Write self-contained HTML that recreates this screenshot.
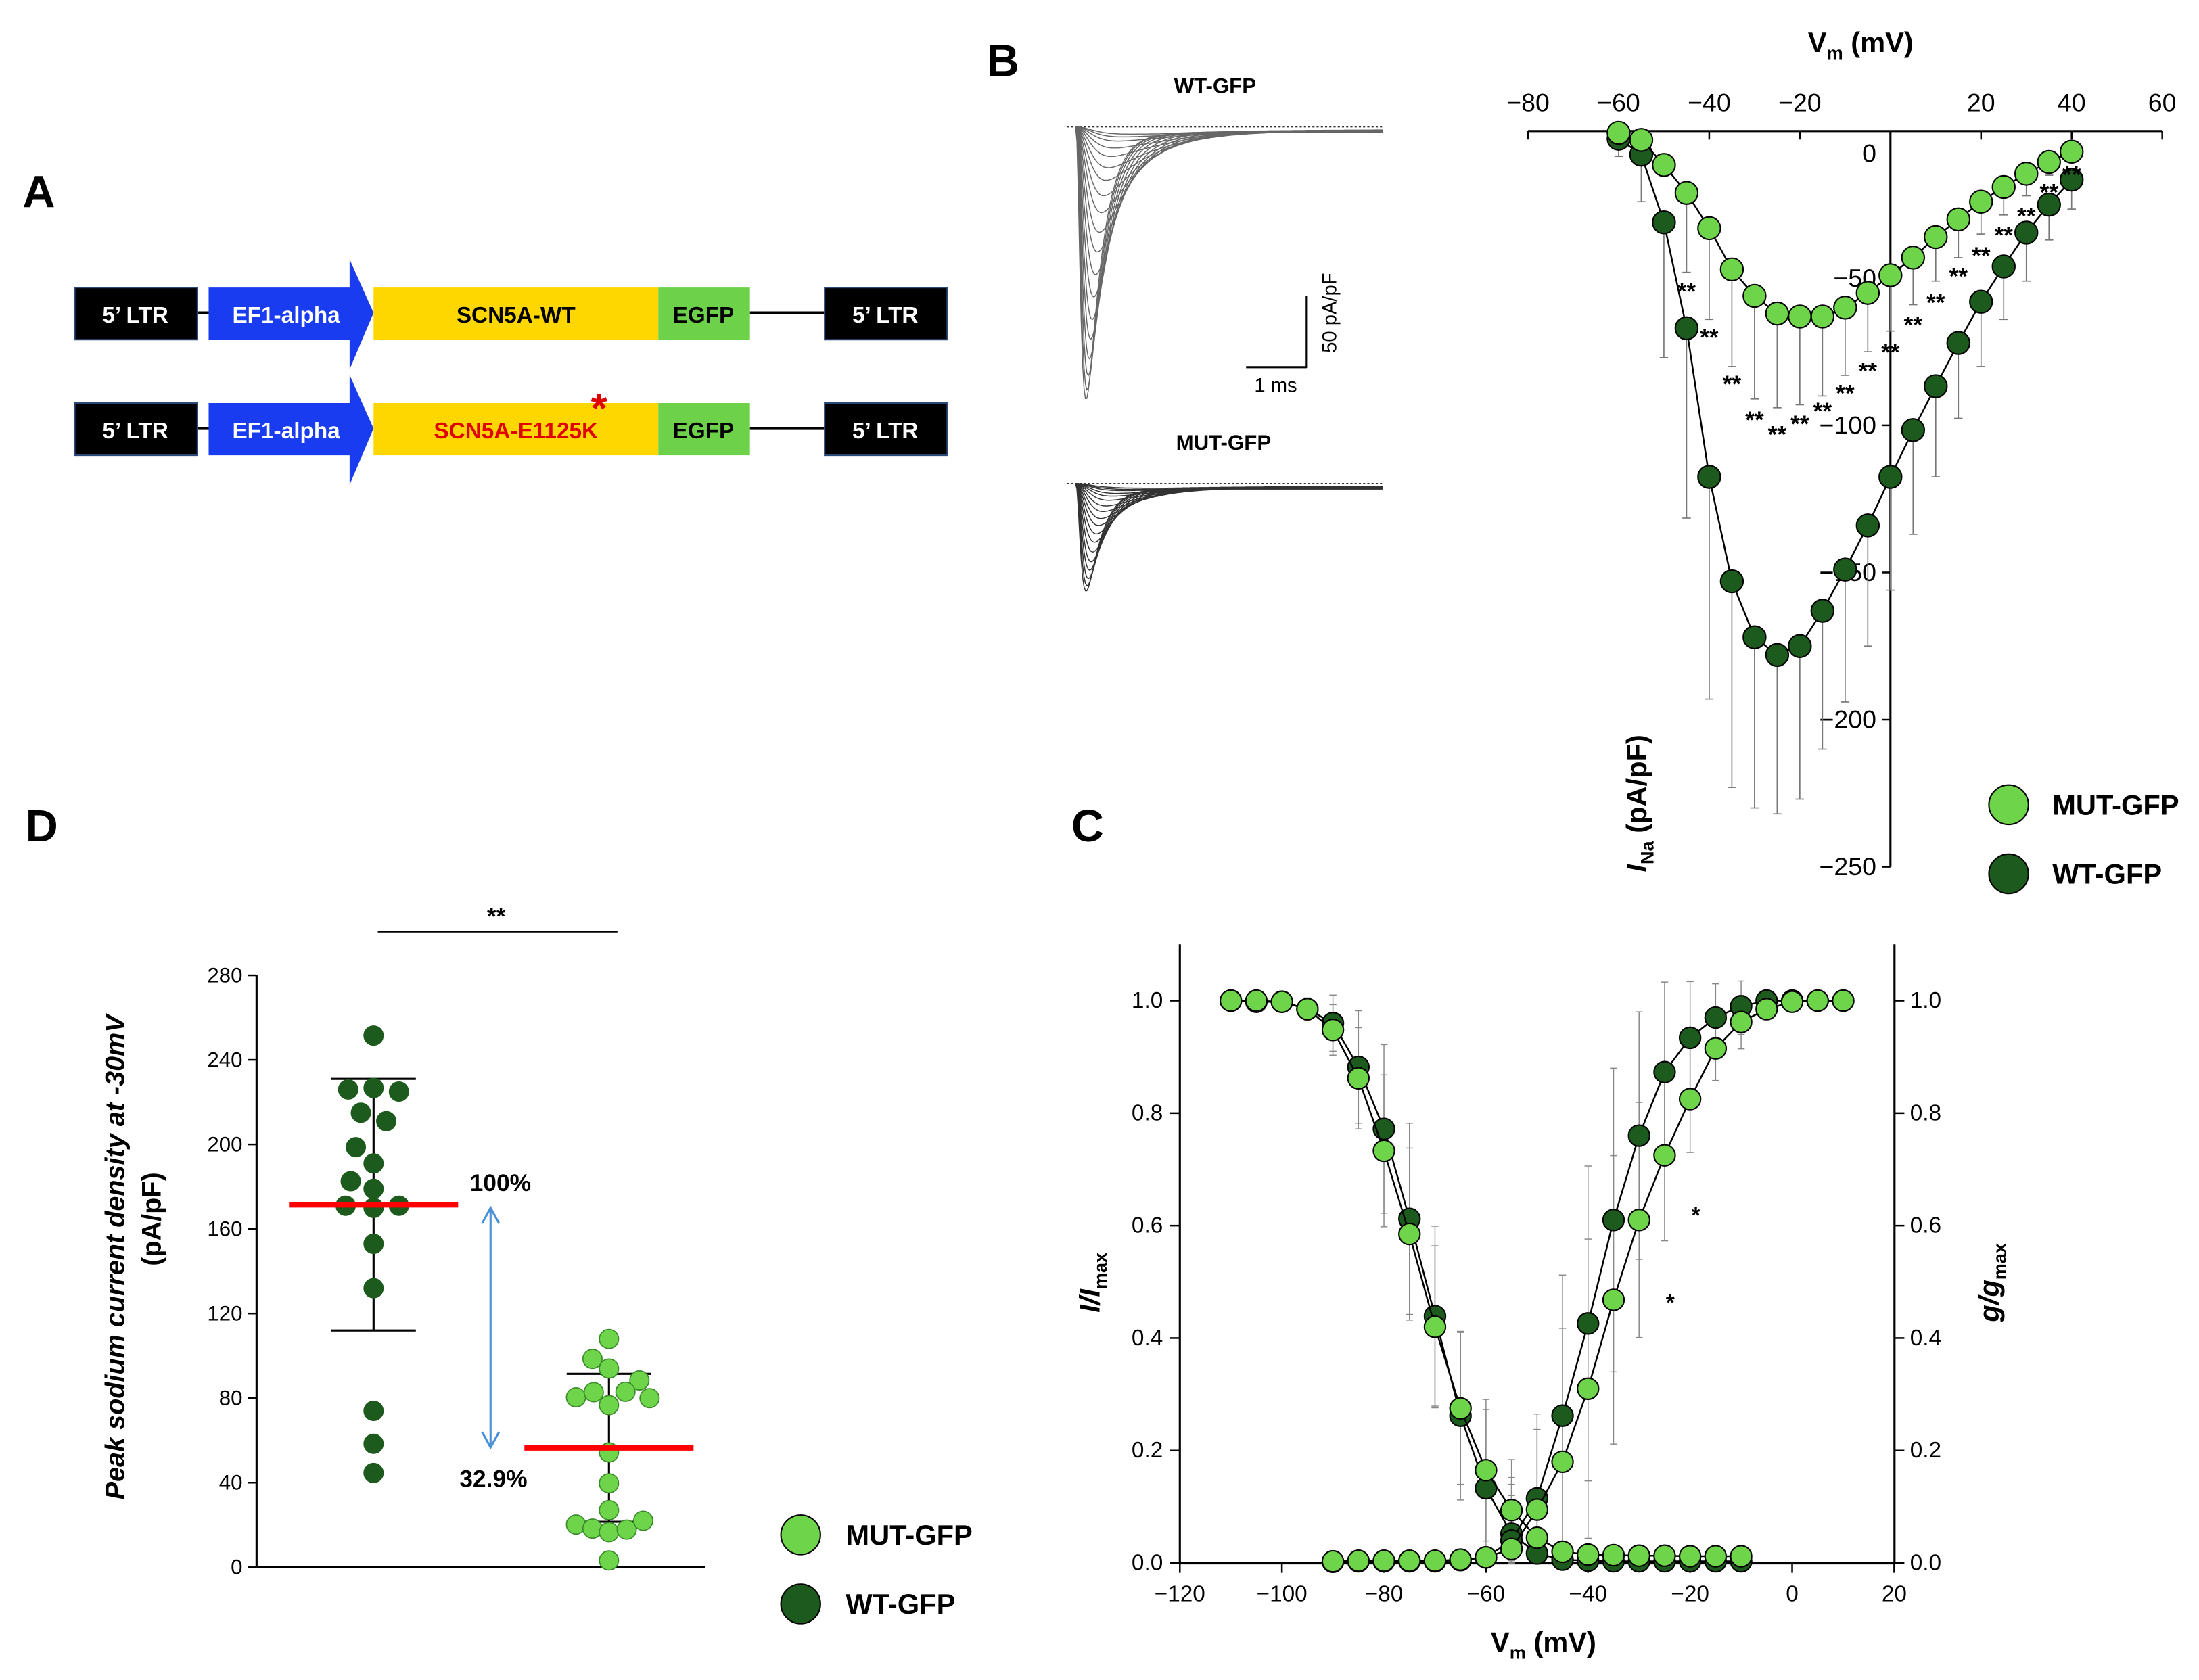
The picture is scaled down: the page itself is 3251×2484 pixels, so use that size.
<!DOCTYPE html>
<html><head><meta charset="utf-8">
<style>
html,body{margin:0;padding:0;background:#fff;}
svg{display:block;font-family:"Liberation Sans",Arial,sans-serif;}
</style></head>
<body>
<svg id="fig" width="3251" height="2484" viewBox="0 0 1560 1192">
<rect x="0" y="0" width="1560" height="1192" fill="#fff"/>
<text x="16" y="147" font-size="32" font-weight="bold">A</text>
<text x="700" y="54" font-size="32" font-weight="bold">B</text>
<text x="760" y="597" font-size="32" font-weight="bold">C</text>
<text x="18" y="597" font-size="32" font-weight="bold">D</text>

<g>
  <line x1="140" y1="222" x2="148" y2="222" stroke="#000" stroke-width="2"/>
  <line x1="532" y1="222" x2="585" y2="222" stroke="#000" stroke-width="2"/>
  <rect x="53" y="204" width="87" height="37" fill="#000" stroke="#2b4a7a"/>
  <text x="96" y="229" font-size="16" font-weight="bold" fill="#fff" text-anchor="middle">5’ LTR</text>
  <polygon points="148,204 248,204 248,184 265,222 248,262 248,241 148,241" fill="#1a3cf0"/>
  <text x="203" y="229" font-size="16" font-weight="bold" fill="#fff" text-anchor="middle">EF1-alpha</text>
  <rect x="265" y="204" width="202" height="37" fill="#ffd700"/>
  <text x="366" y="229" font-size="16" font-weight="bold" fill="#000" text-anchor="middle">SCN5A-WT</text>
  <rect x="467" y="204" width="65" height="37" fill="#6dd24a"/>
  <text x="499" y="229" font-size="16" font-weight="bold" fill="#000" text-anchor="middle">EGFP</text>
  <rect x="585" y="204" width="87" height="37" fill="#000" stroke="#2b4a7a"/>
  <text x="628" y="229" font-size="16" font-weight="bold" fill="#fff" text-anchor="middle">5’ LTR</text>
</g>
<g>
  <line x1="140" y1="304" x2="148" y2="304" stroke="#000" stroke-width="2"/>
  <line x1="532" y1="304" x2="585" y2="304" stroke="#000" stroke-width="2"/>
  <rect x="53" y="286" width="87" height="37" fill="#000" stroke="#2b4a7a"/>
  <text x="96" y="311" font-size="16" font-weight="bold" fill="#fff" text-anchor="middle">5’ LTR</text>
  <polygon points="148,286 248,286 248,266 265,304 248,344 248,323 148,323" fill="#1a3cf0"/>
  <text x="203" y="311" font-size="16" font-weight="bold" fill="#fff" text-anchor="middle">EF1-alpha</text>
  <rect x="265" y="286" width="202" height="37" fill="#ffd700"/>
  <text x="366" y="311" font-size="16" font-weight="bold" fill="#e00000" text-anchor="middle">SCN5A-E1125K</text>
  <text x="425" y="300" font-size="30" font-weight="bold" fill="#e00000" text-anchor="middle">*</text>
  <rect x="467" y="286" width="65" height="37" fill="#6dd24a"/>
  <text x="499" y="311" font-size="16" font-weight="bold" fill="#000" text-anchor="middle">EGFP</text>
  <rect x="585" y="286" width="87" height="37" fill="#000" stroke="#2b4a7a"/>
  <text x="628" y="311" font-size="16" font-weight="bold" fill="#fff" text-anchor="middle">5’ LTR</text>
</g>

<text x="862" y="66" font-size="15" font-weight="bold" text-anchor="middle">WT-GFP</text>
<text x="868" y="319" font-size="15" font-weight="bold" text-anchor="middle">MUT-GFP</text>
<g id="traces"></g>
<g>
  <line x1="927" y1="210" x2="927" y2="261" stroke="#000" stroke-width="1.5"/>
  <line x1="884" y1="260.5" x2="927" y2="260.5" stroke="#000" stroke-width="1.5"/>
  <text x="948" y="222" font-size="14" text-anchor="middle" transform="rotate(-90 948 222)">50 pA/pF</text>
  <text x="905" y="278" font-size="14" text-anchor="middle">1 ms</text>
</g>

<g id="iv"></g>
<g id="cc"></g>
<g id="dd"></g>
</svg>
<script>
// ===== Panel B IV data =====
const ivV = [-60,-55,-50,-45,-40,-35,-30,-25,-20,-15,-10,-5,0,5,10,15,20,25,30,35,40];
const ivMut = [-0.6,-3,-11.5,-21,-33,-47,-56,-62,-63,-63,-60,-55,-49,-43,-36,-30,-24,-19,-14.5,-10.5,-7];
const ivMutErr = [0,0,0,27,31,33,35,32,30,27,23,20,19,16,15,13,11,9.5,7.5,4.5,0];
const ivWt = [-2.6,-8,-31,-67,-117.5,-153,-172,-178,-175,-163,-149,-134,-117.5,-101.6,-86.7,-72,-58,-46,-34.5,-25,-16.5];
const ivWtErr = [6,16,46,64.5,75.5,70,58,54,52,47,45,41,38.5,35.4,30.8,25.6,22,18,16.5,12,10];
const ivStarV = [-45,-40,-35,-30,-25,-20,-15,-10,-5,0,5,10,15,20,25,30,35,40];
const ivStarY = [-53,-68.6,-84.5,-96.6,-101.6,-98,-93.6,-87.6,-80,-73.7,-64.3,-56.8,-47.8,-40.8,-33.9,-27.3,-19.3,-13.3];
const ivXTicks = [-80,-60,-40,-20,20,40,60];
const ivYTicks = [0,-50,-100,-150,-200,-250];

// ===== Trace amplitudes (pixel depth of each sweep) =====
const wtTraceDepth = [193,186,176,164,150,136,120,104,88,74,60,48,37,28,20,14,9,6,4];
const mutTraceDepth = [76,72,67,61,55,48,41,35,29,24,19,15,11,8,6,4,3,2];

// ===== Panel C data =====
const cInactV = [-110,-105,-100,-95,-90,-85,-80,-75,-70,-65,-60,-55,-50,-45,-40,-35,-30,-25,-20,-15,-10];
const cInactWt = [1.0,0.998,0.998,0.985,0.96,0.882,0.772,0.612,0.439,0.262,0.133,0.052,0.017,0.006,0.004,0.003,0.003,0.003,0.003,0.003,0.003];
const cInactMut = [1.0,1.0,0.998,0.985,0.948,0.862,0.733,0.585,0.42,0.275,0.165,0.094,0.045,0.02,0.015,0.014,0.013,0.013,0.012,0.012,0.012];
const cInactErr = [0,0,0,0.02,0.05,0.1,0.15,0.17,0.16,0.15,0.14,0.1,0.06,0,0,0,0,0,0,0,0];
const cActV = [-90,-85,-80,-75,-70,-65,-60,-55,-50,-45,-40,-35,-30,-25,-20,-15,-10,-5,0,5,10];
const cActWt = [0.002,0.003,0.003,0.003,0.003,0.005,0.01,0.04,0.115,0.262,0.426,0.61,0.76,0.873,0.934,0.97,0.99,1.0,1.0,1.0,1.0];
const cActMut = [0.003,0.004,0.004,0.004,0.004,0.006,0.01,0.025,0.095,0.18,0.31,0.468,0.61,0.725,0.825,0.915,0.962,0.985,0.998,1.0,1.0];
const cActErr = [0,0,0,0,0,0,0,0.1,0.15,0.25,0.28,0.27,0.22,0.16,0.1,0.06,0.05,0.02,0,0,0];
const cStarV = [-25,-20];
const cStarY = [0.47,0.625];
const cXTicks = [-120,-100,-80,-60,-40,-20,0,20];
const cYTicks = [0,0.2,0.4,0.6,0.8,1.0];

// ===== Panel D data =====
const dWtVals = [251.5,226,226.7,225,215,211,198.7,191,182.6,179,171,170,171,153,132,74,58.4,44.6];
const dWtJit = [0,-1,0,1,-0.5,0.5,-0.7,0,-0.9,0,-1.1,0,1,0,0,0,0,0];
const dMutVals = [108,98.6,94,88.4,80.4,82.8,83,80,76.7,54.3,39.7,27,20.2,18.3,16.6,17.8,22,3.2];
const dMutJit = [0,-0.65,0,1.2,-1.3,-0.6,0.65,1.6,0,0,0,0,-1.3,-0.65,0,0.7,1.35,0];
const dWtMean = 171.5, dWtSdTop = 231, dWtSdBot = 112;
const dMutMean = 56.5, dMutSdTop = 91.5, dMutSdBot = 21.5;
const dYTicks = [0,40,80,120,160,200,240,280];

const svg = document.getElementById('fig');
const NS = svg.namespaceURI;
function mk(tag, attrs, parent){
  const e = document.createElementNS(NS, tag);
  for (const k in attrs) e.setAttribute(k, attrs[k]);
  parent.appendChild(e);
  return e;
}
const LIGHT = '#6ed44a', DARK = '#1d5a1d';

// ===== Traces =====
(function(){
  const g = document.getElementById('traces');
  function traces(base, x0, depths, color){
    mk('line',{x1:757,y1:base,x2:982,y2:base,stroke:'#333','stroke-width':0.8,'stroke-dasharray':'1.5,1.5'},g);
    const n = depths.length;
    depths.forEach((dep,k)=>{
      const f = k/(n-1);
      const tm = 3 + f*8;
      const th = 11 + f*f*50;
      const shape = t => Math.pow(1-Math.exp(-t/tm),3)*Math.exp(-t/th);
      let mx = 0;
      for (let t=0;t<=215;t+=0.5) mx = Math.max(mx, shape(t));
      let d = '';
      for (let t=0;t<=218;t+=1){
        const yy = base + dep*shape(t)/mx + 4*Math.min(1,t/60)*(1-f*0.5);
        d += (t===0?'M':'L')+(x0+t).toFixed(1)+','+yy.toFixed(1)+' ';
      }
      const p = mk('path',{d:d,fill:'none',stroke:color,'stroke-width':0.7},g);
      
      
    });
  }
  traces(90,763,wtTraceDepth,'#666');
  traces(343,763,mutTraceDepth,'#333');
})();

// ===== IV chart =====
(function(){
  const g = document.getElementById('iv');
  const x = v => 1084 + (v+80)*3.214;
  const y = i => 93 - i*2.088;
  mk('line',{x1:x(-80),y1:93,x2:x(60),y2:93,stroke:'#000','stroke-width':1.5},g);
  mk('line',{x1:x(0),y1:93,x2:x(0),y2:y(-250),stroke:'#000','stroke-width':1.5},g);
  ivXTicks.forEach(v=>{
    mk('line',{x1:x(v),y1:93,x2:x(v),y2:99,stroke:'#000','stroke-width':1.2},g);
    const t = mk('text',{x:x(v),y:79,'font-size':18,'text-anchor':'middle'},g);
    t.textContent = (v<0?'−'+(-v):String(v));
    
    
  });
  ivYTicks.forEach(v=>{
    mk('line',{x1:x(0)-6,y1:y(v),x2:x(0),y2:y(v),stroke:'#000','stroke-width':1.2},g);
    const t = mk('text',{x:x(0)-10,y:y(v)+(v===0?22:6),'font-size':18,'text-anchor':'end'},g);
    t.textContent = (v<0?'−'+(-v):String(v));
    
    
  });
  const xt = mk('text',{x:1320,y:37,'font-size':20,'font-weight':'bold','text-anchor':'middle'},g);
  xt.innerHTML = 'V<tspan font-size="13" dy="5">m</tspan><tspan dy="-5"> (mV)</tspan>';
  
  
  const yt = mk('text',{x:1168,y:570,'font-size':20,'font-weight':'bold','text-anchor':'middle',transform:'rotate(-90 1168 570)'},g);
  yt.innerHTML = '<tspan font-style="italic">I</tspan><tspan font-size="13" dy="5">Na</tspan><tspan dy="-5"> (pA/pF)</tspan>';
  
  
  ivV.forEach((v,i)=>{
    [[ivWt,ivWtErr],[ivMut,ivMutErr]].forEach(([vals,errs])=>{
      if(errs[i]<=0) return;
      mk('line',{x1:x(v),y1:y(vals[i]),x2:x(v),y2:y(vals[i]-errs[i]),stroke:'#777','stroke-width':0.8},g);
      const c = mk('line',{x1:x(v)-3,y1:y(vals[i]-errs[i]),x2:x(v)+3,y2:y(vals[i]-errs[i]),stroke:'#777','stroke-width':0.8},g);
      
      
    });
  });
  [[ivWt,DARK,'iv-wt-point'],[ivMut,LIGHT,'iv-mut-point']].forEach(([vals,col,nm])=>{
    mk('polyline',{points:ivV.map((v,i)=>x(v)+','+y(vals[i])).join(' '),fill:'none',stroke:'#000','stroke-width':1.2},g);
    ivV.forEach((v,i)=>{
      const c = mk('circle',{cx:x(v),cy:y(vals[i]),r:8,fill:col,stroke:'#000','stroke-width':1},g);
      
      
    });
  });
  ivStarV.forEach((v,i)=>{
    const t = mk('text',{x:x(v),y:y(ivStarY[i])+9,'font-size':17,'font-weight':'bold','text-anchor':'middle'},g);
    t.textContent='**';
    
    
  });
  [[571,LIGHT,'MUT-GFP'],[620,DARK,'WT-GFP']].forEach(([cy,col,lab])=>{
    const c = mk('circle',{cx:1425,cy:cy,r:14,fill:col,stroke:'#000','stroke-width':1},g);
    
    
    const t = mk('text',{x:1456,y:cy+7,'font-size':20,'font-weight':'bold'},g);
    t.textContent = lab;
    
    
  });
})();

// ===== Panel C =====
(function(){
  const g = document.getElementById('cc');
  const x = v => 837 + (v+120)*3.62;
  const y = f => 1109 - f*399;
  mk('line',{x1:837,y1:670,x2:837,y2:1109,stroke:'#000','stroke-width':1.5},g);
  mk('line',{x1:1344,y1:670,x2:1344,y2:1109,stroke:'#000','stroke-width':1.5},g);
  mk('line',{x1:837,y1:1109,x2:1344,y2:1109,stroke:'#000','stroke-width':2},g);
  cXTicks.forEach(v=>{
    mk('line',{x1:x(v),y1:1109,x2:x(v),y2:1116,stroke:'#000','stroke-width':1.2},g);
    const t = mk('text',{x:x(v),y:1136,'font-size':16,'text-anchor':'middle'},g);
    t.textContent = (v<0?'−'+(-v):String(v));
    
    
  });
  cYTicks.forEach(v=>{
    mk('line',{x1:830,y1:y(v),x2:837,y2:y(v),stroke:'#000','stroke-width':1.2},g);
    mk('line',{x1:1344,y1:y(v),x2:1351,y2:y(v),stroke:'#000','stroke-width':1.2},g);
    const t = mk('text',{x:825,y:y(v)+5,'font-size':16,'text-anchor':'end'},g);
    t.textContent = v.toFixed(1);
    
    
    const t2 = mk('text',{x:1355,y:y(v)+5,'font-size':16},g);
    t2.textContent = v.toFixed(1);
    
    
  });
  const xt = mk('text',{x:1095,y:1172,'font-size':20,'font-weight':'bold','text-anchor':'middle'},g);
  xt.innerHTML = 'V<tspan font-size="13" dy="5">m</tspan><tspan dy="-5"> (mV)</tspan>';
  
  
  const yl = mk('text',{x:780,y:910,'font-size':20,'font-weight':'bold','font-style':'italic','text-anchor':'middle',transform:'rotate(-90 780 910)'},g);
  yl.innerHTML = 'I/I<tspan font-size="13" dy="5" font-style="normal">max</tspan>';
  
  
  const yr = mk('text',{x:1418,y:910,'font-size':20,'font-weight':'bold','font-style':'italic','text-anchor':'middle',transform:'rotate(-90 1418 910)'},g);
  yr.innerHTML = 'g/g<tspan font-size="13" dy="5" font-style="normal">max</tspan>';
  
  
  function errs(V, vals, e){
    V.forEach((v,i)=>{
      if(e[i]<=0) return;
      const y1=y(Math.min(1.035,vals[i]+e[i])), y2=y(Math.max(0,vals[i]-e[i]));
      const l = mk('line',{x1:x(v),y1:y1,x2:x(v),y2:y2,stroke:'#888','stroke-width':0.7},g);
      
      
      mk('line',{x1:x(v)-2.5,y1:y1,x2:x(v)+2.5,y2:y1,stroke:'#888','stroke-width':0.7},g);
      mk('line',{x1:x(v)-2.5,y1:y2,x2:x(v)+2.5,y2:y2,stroke:'#888','stroke-width':0.7},g);
    });
  }
  errs(cInactV,cInactWt,cInactErr); errs(cInactV,cInactMut,cInactErr.map(e=>e*0.9));
  errs(cActV,cActWt,cActErr); errs(cActV,cActMut,cActErr.map(e=>e*0.95));
  function series(V, vals, col, nm){
    mk('polyline',{points:V.map((v,i)=>x(v)+','+y(vals[i])).join(' '),fill:'none',stroke:'#000','stroke-width':1.2},g);
    V.forEach((v,i)=>{
      const c = mk('circle',{cx:x(v),cy:y(vals[i]),r:7.5,fill:col,stroke:'#000','stroke-width':1},g);
      
      
    });
  }
  series(cInactV,cInactWt,DARK,'c-inact-wt-point');
  series(cActV,cActWt,DARK,'c-act-wt-point');
  series(cInactV,cInactMut,LIGHT,'c-inact-mut-point');
  series(cActV,cActMut,LIGHT,'c-act-mut-point');
  cStarV.forEach((v,i)=>{
    const t = mk('text',{x:x(v)+4,y:y(cStarY[i])+8,'font-size':16,'font-weight':'bold','text-anchor':'middle'},g);
    t.textContent='*';
    
    
  });
})();

// ===== Panel D =====
(function(){
  const g = document.getElementById('dd');
  const y = v => 1112 - v*1.5;
  const wtX = 265, mutX = 432, jit = 18;
  mk('line',{x1:182,y1:692,x2:182,y2:1112,stroke:'#000','stroke-width':1.5},g);
  mk('line',{x1:182,y1:1112,x2:500,y2:1112,stroke:'#000','stroke-width':1.5},g);
  dYTicks.forEach(v=>{
    mk('line',{x1:176,y1:y(v),x2:182,y2:y(v),stroke:'#000','stroke-width':1.2},g);
    const t = mk('text',{x:172,y:y(v)+5,'font-size':15,'text-anchor':'end'},g);
    t.textContent = String(v);
    
    
  });
  const yl = mk('text',{x:88,y:892,'font-size':19,'font-weight':'bold','font-style':'italic','text-anchor':'middle',transform:'rotate(-90 88 892)'},g);
  yl.textContent = 'Peak sodium current density at -30mV';
  
  
  const yl2 = mk('text',{x:114,y:865,'font-size':19,'font-weight':'bold','text-anchor':'middle',transform:'rotate(-90 114 865)'},g);
  yl2.textContent = '(pA/pF)';
  
  
  function group(cx, vals, jits, col, mean, top, bot, nm){
    mk('line',{x1:cx,y1:y(top),x2:cx,y2:y(bot),stroke:'#000','stroke-width':1.5},g);
    mk('line',{x1:cx-30,y1:y(top),x2:cx+30,y2:y(top),stroke:'#000','stroke-width':1.5},g);
    mk('line',{x1:cx-30,y1:y(bot),x2:cx+30,y2:y(bot),stroke:'#000','stroke-width':1.5},g);
    vals.forEach((v,i)=>{
      const c = mk('circle',{cx:cx+jits[i]*jit,cy:y(v),r:6.8,fill:col,stroke:col===LIGHT?'#3a8a2a':DARK,'stroke-width':0.8},g);
      
      
    });
    const m = mk('line',{x1:cx-60,y1:y(mean),x2:cx+60,y2:y(mean),stroke:'#ff0000','stroke-width':4},g);
    
    
  }
  group(wtX,dWtVals,dWtJit,DARK,dWtMean,dWtSdTop,dWtSdBot,'d-wt-point');
  group(mutX,dMutVals,dMutJit,LIGHT,dMutMean,dMutSdTop,dMutSdBot,'d-mut-point');
  mk('line',{x1:268,y1:661,x2:438,y2:661,stroke:'#000','stroke-width':1.2},g);
  const s = mk('text',{x:352,y:656,'font-size':17,'font-weight':'bold','text-anchor':'middle'},g);
  s.textContent='**';
  
  
  const a = mk('line',{x1:348,y1:858,x2:348,y2:1026,stroke:'#4a90d9','stroke-width':1.5},g);
  
  
  mk('polyline',{points:'342,868 348,857 354,868',fill:'none',stroke:'#4a90d9','stroke-width':1.5},g);
  mk('polyline',{points:'342,1016 348,1027 354,1016',fill:'none',stroke:'#4a90d9','stroke-width':1.5},g);
  const p1 = mk('text',{x:355,y:845,'font-size':17,'font-weight':'bold','text-anchor':'middle'},g);
  p1.textContent='100%';
  
  
  const p2 = mk('text',{x:350,y:1055,'font-size':17,'font-weight':'bold','text-anchor':'middle'},g);
  p2.textContent='32.9%';
  
  
  [[1089,LIGHT,'MUT-GFP'],[1138,DARK,'WT-GFP']].forEach(([cy,col,lab])=>{
    const c = mk('circle',{cx:568,cy:cy,r:14,fill:col,stroke:'#000','stroke-width':1},g);
    
    
    const t = mk('text',{x:600,y:cy+7,'font-size':20,'font-weight':'bold'},g);
    t.textContent = lab;
    
    
  });
})();
</script>
</body></html>
